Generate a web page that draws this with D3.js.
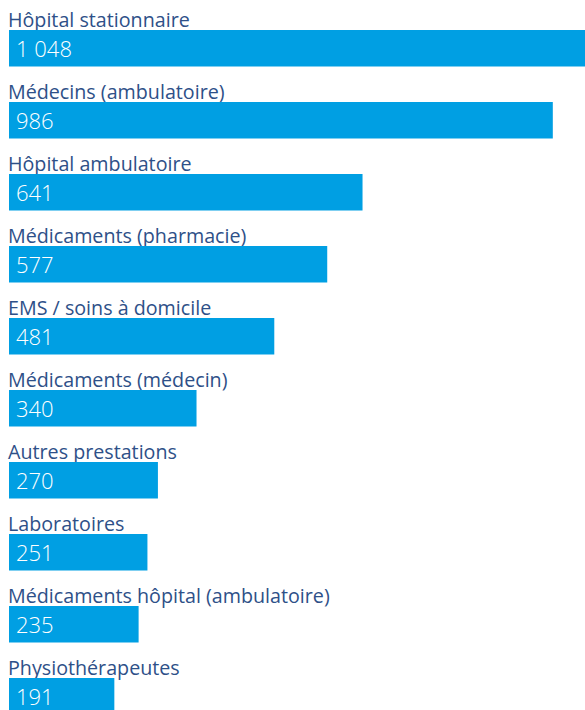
<!DOCTYPE html>
<html>
<head>
<meta charset="utf-8">
<script src="https://cdn.jsdelivr.net/npm/d3@7"></script>
<style>
  body { margin: 0; background: #fff; }
  svg { display: block; }
  .label { font-family: "Open Sans", sans-serif; font-size: 19.7px; fill: #2e5088; }
  .value { font-family: "Open Sans", sans-serif; font-weight: 300; font-size: 22px; fill: #fff; }
</style>
</head>
<body>
<svg id="chart"></svg>
<script>
const categories = [
  "Hôpital stationnaire",
  "Médecins (ambulatoire)",
  "Hôpital ambulatoire",
  "Médicaments (pharmacie)",
  "EMS / soins à domicile",
  "Médicaments (médecin)",
  "Autres prestations",
  "Laboratoires",
  "Médicaments hôpital (ambulatoire)",
  "Physiothérapeutes"
];
const values = [1048, 986, 641, 577, 481, 340, 270, 251, 235, 191];
const valueLabels = ["1 048", "986", "641", "577", "481", "340", "270", "251", "235", "191"];

const width = 585, height = 710;
const rowStep = 72, barTop = 30, barH = 36.5;

const svg = d3.select("#chart")
  .attr("width", width)
  .attr("height", height);

const x = d3.scaleLinear().domain([0, 1048]).range([9, 587]);
const y = d3.scaleBand().domain(categories).range([0, rowStep * categories.length]);

const rows = svg.selectAll("g.row")
  .data(categories)
  .join("g")
  .attr("class", "row")
  .attr("transform", d => `translate(0,${y(d)})`);

rows.append("text")
  .attr("class", "label")
  .attr("x", 8)
  .attr("y", 27)
  .text(d => d);

rows.append("rect")
  .attr("x", x(0))
  .attr("y", barTop)
  .attr("height", barH)
  .attr("width", (d, i) => x(values[i]) - x(0))
  .attr("fill", "#009fe3");

rows.append("text")
  .attr("class", "value")
  .attr("x", 16)
  .attr("y", barTop + 27)
  .text((d, i) => valueLabels[i]);
</script>
</body>
</html>
